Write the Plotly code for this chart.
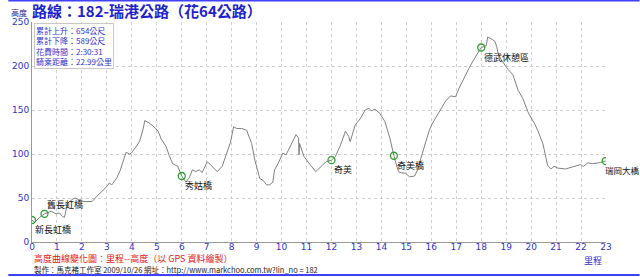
import plotly.graph_objects as go

# ---- data ----
km = [0, 0.1, 0.3, 0.5, 0.77, 0.96, 1.1, 1.22, 1.3, 1.42,
      1.55, 1.7, 1.9, 2.08, 2.41, 2.6, 3.0, 3.1, 3.2, 3.4,
      3.53, 3.66, 3.77, 3.9, 3.98, 4.19, 4.32, 4.45, 4.52, 4.65,
      4.85, 5.05, 5.18, 5.38, 5.5, 5.64, 5.84, 6.0, 6.17, 6.3,
      6.43, 6.56, 6.7, 6.82, 7.02, 7.15, 7.42, 7.62, 7.75, 7.88,
      7.95, 8.08, 8.2, 8.4, 8.6, 8.8, 8.93, 9.13, 9.26, 9.4,
      9.52, 9.65, 9.72, 9.86, 10.05, 10.18, 10.38, 10.58, 10.68, 10.7,
      10.72, 10.9, 11.17, 11.37, 11.63, 11.77, 12.0, 12.15, 12.36, 12.56,
      12.69, 12.75, 12.95, 13.15, 13.35, 13.5, 13.6, 13.74, 13.94, 14.14,
      14.34, 14.5, 14.66, 14.72, 14.97, 15.13, 15.33, 15.45, 15.58, 15.72,
      15.92, 16.05, 16.25, 16.44, 16.57, 16.77, 16.97, 17.1, 17.3, 17.5,
      17.7, 17.85, 18.0, 18.2, 18.26, 18.4, 18.55, 18.62, 18.68, 18.8,
      19.08, 19.27, 19.47, 19.67, 19.8, 19.87, 20.0, 20.13, 20.26, 20.4,
      20.47, 20.66, 20.8, 20.92, 21.07, 21.38, 21.62, 21.98, 22.1, 22.27,
      22.45, 22.71, 22.99]
elev = [25, 22, 28, 32, 35, 32, 33, 29, 28, 44,
        47, 50, 48, 46, 46, 52, 63, 67, 65, 73,
        81, 92, 102, 100, 101, 109, 115, 128, 138, 136,
        132, 126, 117, 108, 98, 89, 86, 75, 68, 73,
        82, 80, 82, 79, 91, 88, 80, 86, 97, 108,
        113, 131, 129, 129, 127, 112, 93, 72, 70, 65,
        65, 68, 82, 89, 101, 99, 110, 122, 118, 99,
        112, 97, 87, 80, 87, 91, 93, 97, 110, 126,
        120, 114, 133, 140, 150, 152, 149, 151, 146, 137,
        118, 98, 82, 79, 78, 74, 75, 82, 95, 108,
        127, 135, 144, 154, 160, 166, 165, 174, 186, 197,
        207, 214, 221, 223, 233, 231, 228, 222, 214, 207,
        196, 190, 173, 163, 152, 148, 141, 135, 127, 118,
        112, 87, 83, 86, 84, 83, 85, 88, 86, 90,
        89, 90, 92]

station_km = [0, 0.5, 6.0, 12.0, 14.5, 18.0, 22.99]
station_elev = [25, 32, 75, 93, 98, 221, 92]
station_names = ["新長虹橋", "舊長虹橋", "秀姑橋", "奇美", "奇美橋", "德武休憩區", "瑞岡大橋"]

x_ticks = list(range(0, 24))
y_ticks = [0, 50, 100, 150, 200, 250]

info_lines = ["累計上升：654公尺", "累計下降：589公尺", "花費時間：2:30:31", "騎乘距離：22.99公里"]
title_text = "路線：182-瑞港公路（花64公路）"
subtitle_text = "高度曲線變化圖：里程--高度（以 GPS 資料繪製）"
credit_text = "製作：馬克褚工作室 2009/10/26 網址：http://www.markchoo.com.tw?lin_no = 182"

FONT = "Noto Sans CJK TC, DejaVu Sans, sans-serif"
BLUE = "#3333cc"

fig = go.Figure()
fig.add_trace(go.Scatter(x=km, y=elev, mode="lines",
                         line=dict(color="#808080", width=1), hoverinfo="skip"))
fig.add_trace(go.Scatter(x=station_km, y=station_elev, mode="markers",
                         marker=dict(symbol="circle-open", size=7, color="#2e9e2e", line=dict(width=1.3)),
                         hoverinfo="skip"))

annotations = []
for i, (sx, sy, name) in enumerate(zip(station_km, station_elev, station_names)):
    last = i == len(station_km) - 1
    xs = -3 if last else 1
    fs = 8.5 if last else 9
    if i == 1:
        annotations.append(dict(x=sx, y=sy, text=name, showarrow=False, xanchor="left", yanchor="bottom",
                                xshift=xs, yshift=1, font=dict(size=fs, color="#111111", family=FONT)))
    else:
        annotations.append(dict(x=sx, y=sy, text=name, showarrow=False, xanchor="left", yanchor="top",
                                xshift=xs, yshift=-1, font=dict(size=fs, color="#111111", family=FONT)))

annotations.append(dict(xref="paper", yref="paper", x=0, y=1, xshift=2, yshift=-1,
                        text="<br>".join(info_lines), showarrow=False, align="left",
                        xanchor="left", yanchor="top", bgcolor="white", bordercolor="#c8c8c8",
                        borderwidth=1, borderpad=1,
                        font=dict(size=8, color=BLUE, family=FONT)))

# header & footer texts (pixel-positioned via paper coords)
W, H = 640, 277
L, R, T, B = 24, 34, 22, 35
pw, ph = W - L - R, H - T - B

def px(x):
    return (x - L) / pw

def py(y):
    return (H - B - y) / ph

annotations.append(dict(xref="paper", yref="paper", x=px(22), y=py(11), text="<b>" + title_text + "</b>",
                        showarrow=False, xanchor="left", yanchor="middle",
                        font=dict(size=15, color="#2222cc", family=FONT)))
annotations.append(dict(xref="paper", yref="paper", x=px(1), y=py(12), text="高度",
                        showarrow=False, xanchor="left", yanchor="middle",
                        font=dict(size=8, color="#222288", family=FONT)))
annotations.append(dict(xref="paper", yref="paper", x=px(24), y=py(258), text=subtitle_text,
                        showarrow=False, xanchor="left", yanchor="middle",
                        font=dict(size=9, color="#e02020", family=FONT)))
annotations.append(dict(xref="paper", yref="paper", x=px(24), y=py(269), text=credit_text,
                        showarrow=False, xanchor="left", yanchor="middle",
                        font=dict(size=7.5, color="#222222", family=FONT)))
annotations.append(dict(xref="paper", yref="paper", x=px(593), y=py(260), text="里程",
                        showarrow=False, xanchor="center", yanchor="middle",
                        font=dict(size=9, color=BLUE, family=FONT)))

shapes = [
    dict(type="line", xref="paper", yref="paper", x0=px(0), x1=px(W), y0=py(0.5), y1=py(0.5),
         line=dict(color="#4040ff", width=2)),
    dict(type="line", xref="paper", yref="paper", x0=px(0), x1=px(W), y0=py(275), y1=py(275),
         line=dict(color="#4040ff", width=2)),
]

fig.update_layout(
    width=W, height=H,
    margin=dict(l=L, r=R, t=T, b=B),
    paper_bgcolor="white", plot_bgcolor="white",
    showlegend=False,
    annotations=annotations,
    shapes=shapes,
    font=dict(family=FONT),
)
fig.update_xaxes(range=[0, 23], tickvals=x_ticks, ticktext=[str(v) for v in x_ticks],
                 showgrid=True, gridcolor="#cfcfcf", griddash="dot", gridwidth=1,
                 showline=True, linecolor="#9a9a9a", linewidth=1, zeroline=False,
                 ticks="", ticklen=0, ticklabelstandoff=-4,
                 tickfont=dict(size=9, color=BLUE, family="DejaVu Sans"))
fig.update_yaxes(range=[0, 250], tickvals=y_ticks, ticktext=[str(v) for v in y_ticks],
                 showgrid=True, gridcolor="#cfcfcf", griddash="dot", gridwidth=1,
                 showline=True, linecolor="#9a9a9a", linewidth=1, zeroline=False,
                 ticks="", ticklen=0,
                 tickfont=dict(size=9, color=BLUE, family="DejaVu Sans"))

fig.write_html("out.html")
